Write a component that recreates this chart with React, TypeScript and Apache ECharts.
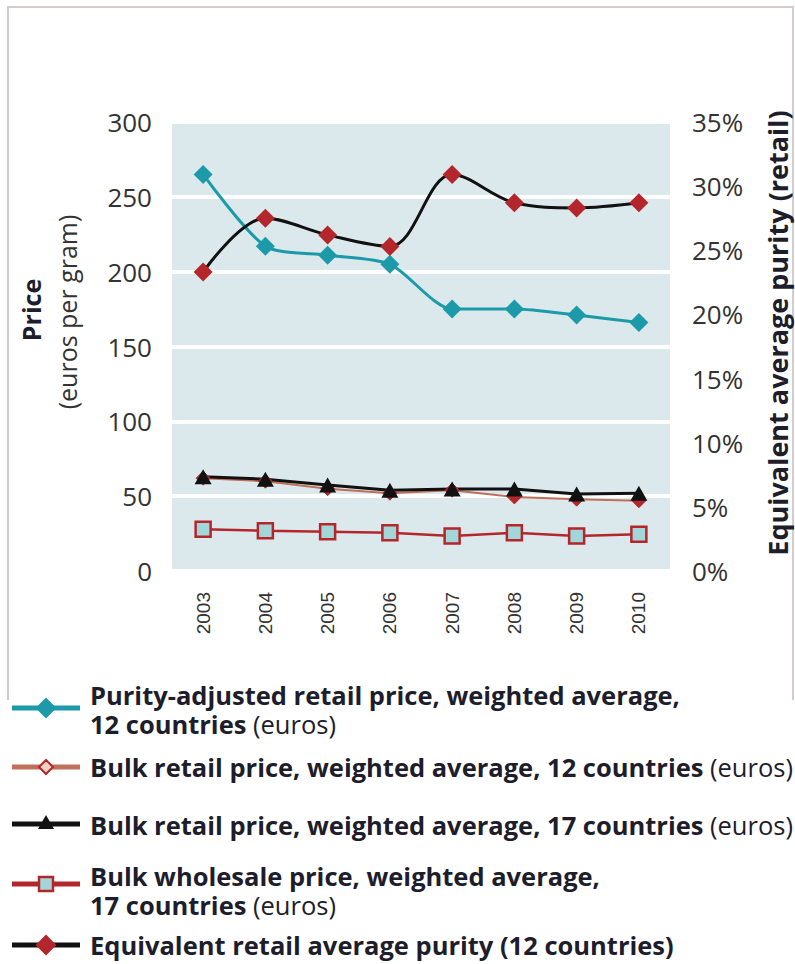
import React, { useEffect, useRef } from "react";
import * as echarts from "echarts";

const years = ["2003", "2004", "2005", "2006", "2007", "2008", "2009", "2010"];
const purityAdjusted = [265, 217, 211, 205, 175, 175, 171, 166];
const bulkRetail12 = [62, 60, 55, 52, 54, 49.5, 48, 47];
const bulkRetail17 = [63, 61.3, 57.5, 54, 54.8, 54.8, 51.4, 51.9];
const wholesale17 = [27.9, 26.9, 26.3, 25.6, 23.4, 25.6, 23.4, 24.5];
const purityPct = [23.3, 27.5, 26.2, 25.3, 30.9, 28.7, 28.3, 28.7];
const leftTicks = [0, 50, 100, 150, 200, 250, 300];
const rightTicks = [0, 5, 10, 15, 20, 25, 30, 35];

const names = [
  "Purity-adjusted retail price, weighted average, 12 countries",
  "Bulk retail price, weighted average, 12 countries",
  "Bulk retail price, weighted average, 17 countries",
  "Bulk wholesale price, weighted average, 17 countries",
  "Equivalent retail average purity (12 countries)",
];

const TEAL = "#1c9aa9";
const RED = "#b3262b";
const BROWN = "#c0705a";
const BG = "#dce9ec";
const FONT = "'Open Sans', 'Noto Sans', sans-serif";
const TXT = "#1d1d2b";

export default function App() {
  const ref = useRef<HTMLDivElement>(null);
  useEffect(() => {
    if (!ref.current) return;
    const chart = echarts.init(ref.current, undefined, { renderer: "svg" });

    const legendFont = 25.5;
    const bold = { fontFamily: FONT, fontSize: legendFont, fontWeight: "bold", fill: TXT };
    const rich = {
      b: { fontFamily: FONT, fontSize: legendFont, fontWeight: "bold", color: TXT, lineHeight: 29 },
      n: { fontFamily: FONT, fontSize: legendFont, fontWeight: "normal", color: "#333", lineHeight: 29 },
    };
    const lineText = (txt: string, y: number) => ({
      type: "text",
      x: 90,
      y,
      style: { text: txt, rich, textVerticalAlign: "middle", textAlign: "left", lineHeight: 29, ...bold },
    });
    const iconLine = (y: number, color: string) => ({
      type: "line",
      shape: { x1: 12, y1: y, x2: 80, y2: y },
      style: { stroke: color, lineWidth: 5 },
    });
    const diamond = (y: number, fill: string, stroke: string, s = 9) => ({
      type: "polygon",
      shape: { points: [[46, y - s], [46 + s, y], [46, y + s], [46 - s, y]] },
      style: { fill, stroke, lineWidth: 2 },
    });

    const graphic: any[] = [
      {
        type: "polyline",
        shape: { points: [[8, 700], [8, 7], [793, 7], [793, 700]] },
        style: { stroke: "#d6caca", lineWidth: 2, fill: "none" },
      },
      {
        type: "text",
        x: 31,
        y: 310,
        rotation: Math.PI / 2,
        style: { text: "Price", fontFamily: FONT, fontSize: 25, fontWeight: "bold", fill: TXT, textAlign: "center", textVerticalAlign: "middle" },
      },
      {
        type: "text",
        x: 67,
        y: 312,
        rotation: Math.PI / 2,
        style: { text: "(euros per gram)", fontFamily: FONT, fontSize: 25, fill: "#333", textAlign: "center", textVerticalAlign: "middle" },
      },
      {
        type: "text",
        x: 777,
        y: 333,
        rotation: Math.PI / 2,
        style: { text: "Equivalent average purity (retail)", fontFamily: FONT, fontSize: 27, fontWeight: "bold", fill: TXT, textAlign: "center", textVerticalAlign: "middle" },
      },
      // legend item 1
      iconLine(708, TEAL),
      diamond(708, TEAL, TEAL),
      lineText("{b|Purity-adjusted retail price, weighted average,}\n{b|12 countries} {n|(euros)}", 709),
      // item 2
      iconLine(767, BROWN),
      diamond(767, "#f3d0c0", RED, 7),
      lineText("{b|Bulk retail price, weighted average, 12 countries} {n|(euros)}", 767),
      // item 3
      iconLine(824, "#111"),
      {
        type: "polygon",
        shape: { points: [[46, 815], [54, 829], [38, 829]] },
        style: { fill: "#111" },
      },
      lineText("{b|Bulk retail price, weighted average, 17 countries} {n|(euros)}", 825),
      // item 4
      iconLine(884, RED),
      {
        type: "rect",
        shape: { x: 39, y: 877, width: 14, height: 14 },
        style: { fill: "#a3d6d8", stroke: RED, lineWidth: 2.5 },
      },
      lineText("{b|Bulk wholesale price, weighted average,}\n{b|17 countries} {n|(euros)}", 890.5),
      // item 5
      iconLine(945, "#111"),
      diamond(945, RED, RED),
      lineText("{b|Equivalent retail average purity (12 countries)}", 945),
    ];

    chart.setOption({
      animation: false,
      textStyle: { fontFamily: FONT },
      grid: {
        left: 172,
        top: 122,
        width: 498,
        height: 449,
        show: true,
        backgroundColor: BG,
        borderWidth: 0,
      },
      xAxis: {
        type: "category",
        data: years,
        boundaryGap: true,
        axisLine: { show: false },
        axisTick: { show: false },
        axisLabel: {
          rotate: 90,
          margin: 21,
          fontFamily: "'Liberation Sans', Arial, sans-serif",
          fontSize: 19,
          color: "#333",
        },
      },
      yAxis: [
        {
          type: "value",
          min: leftTicks[0],
          max: leftTicks[leftTicks.length - 1],
          interval: 50,
          axisLine: { show: false },
          axisTick: { show: false },
          axisLabel: { margin: 20, fontSize: 26, color: "#333", fontFamily: FONT },
          splitLine: { show: true, lineStyle: { color: "#ffffff", width: 4 } },
        },
        {
          type: "value",
          min: rightTicks[0],
          max: rightTicks[rightTicks.length - 1],
          interval: 5,
          position: "right",
          axisLine: { show: false },
          axisTick: { show: false },
          axisLabel: { margin: 22, fontSize: 26, color: "#333", fontFamily: FONT, formatter: "{value}%" },
          splitLine: { show: false },
        },
      ],
      series: [
        {
          name: names[3],
          type: "line",
          data: wholesale17,
          yAxisIndex: 0,
          symbol: "rect",
          symbolSize: 15,
          lineStyle: { color: RED, width: 2.5 },
          itemStyle: { color: "#a3d6d8", borderColor: RED, borderWidth: 2.5 },
        },
        {
          name: names[1],
          type: "line",
          data: bulkRetail12,
          yAxisIndex: 0,
          symbol: "diamond",
          symbolSize: 14,
          lineStyle: { color: BROWN, width: 2 },
          itemStyle: { color: RED, borderColor: RED, borderWidth: 1 },
        },
        {
          name: names[2],
          type: "line",
          data: bulkRetail17,
          yAxisIndex: 0,
          symbol: "triangle",
          symbolSize: [17, 15],
          lineStyle: { color: "#111", width: 3 },
          itemStyle: { color: "#111" },
        },
        {
          name: names[0],
          type: "line",
          data: purityAdjusted,
          yAxisIndex: 0,
          smooth: 0.25,
          symbol: "diamond",
          symbolSize: 19,
          lineStyle: { color: TEAL, width: 3 },
          itemStyle: { color: TEAL },
        },
        {
          name: names[4],
          type: "line",
          data: purityPct,
          yAxisIndex: 1,
          smooth: 0.35,
          symbol: "diamond",
          symbolSize: 19,
          lineStyle: { color: "#111", width: 3 },
          itemStyle: { color: RED },
        },
      ],
      graphic,
    });
    return () => chart.dispose();
  }, []);
  return <div ref={ref} style={{ position: "absolute", left: 0, top: 0, width: 795, height: 964 }} />;
}
